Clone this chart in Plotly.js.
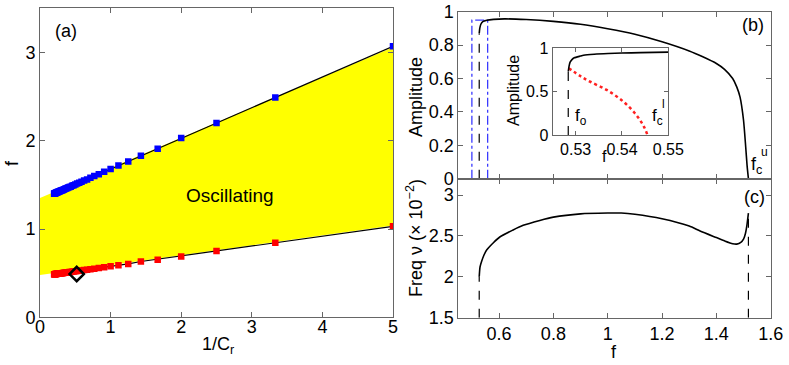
<!DOCTYPE html>
<html>
<head>
<meta charset="utf-8">
<script src="https://cdn.plot.ly/plotly-3.0.1.min.js"></script>
<style>html,body{margin:0;padding:0;background:#fff;}#chart{width:789px;height:365px;}</style>
</head>
<body>
<div id="chart"></div>
<script>
// ---------- Panel (a) data ----------
const invCr = [5, 3.333, 2.5, 2.0, 1.667, 1.429, 1.25, 1.111, 1.0, 0.909, 0.833, 0.769, 0.714, 0.667, 0.625, 0.588, 0.556, 0.526, 0.5, 0.476, 0.455, 0.435, 0.417, 0.4, 0.385, 0.37, 0.357, 0.345, 0.333, 0.323, 0.313, 0.303, 0.294, 0.286, 0.278, 0.27, 0.263, 0.256, 0.25, 0.244, 0.238, 0.233, 0.227, 0.222, 0.217, 0.213, 0.208, 0.204, 0.2];
const fUpper = [3.07, 2.49, 2.20, 2.03, 1.91, 1.83, 1.765, 1.72, 1.68, 1.65, 1.62, 1.60, 1.58, 1.56, 1.55, 1.535, 1.525, 1.515, 1.505, 1.495, 1.49, 1.48, 1.475, 1.47, 1.465, 1.46, 1.455, 1.45, 1.445, 1.443, 1.44, 1.435, 1.432, 1.43, 1.427, 1.424, 1.422, 1.42, 1.418, 1.416, 1.414, 1.412, 1.41, 1.408, 1.406, 1.405, 1.403, 1.402, 1.40];
const fLower = [1.03, 0.845, 0.75, 0.69, 0.652, 0.632, 0.605, 0.59, 0.577, 0.567, 0.558, 0.551, 0.545, 0.54, 0.535, 0.531, 0.528, 0.524, 0.521, 0.519, 0.516, 0.514, 0.512, 0.51, 0.508, 0.507, 0.505, 0.504, 0.503, 0.502, 0.5, 0.499, 0.498, 0.497, 0.496, 0.495, 0.495, 0.494, 0.493, 0.493, 0.492, 0.491, 0.491, 0.49, 0.49, 0.489, 0.489, 0.488, 0.488];
const oscX = [0, 5];
const oscTop = [1.35, 3.06];
const oscBottom = [0.478, 1.04];
const markX = [0.52];
const markY = [0.49];

// ---------- Panel (b) data ----------
const ampF = [0.527, 0.529, 0.533, 0.54, 0.555, 0.58, 0.62, 0.7, 0.8, 0.9, 1.0, 1.1, 1.2, 1.3, 1.35, 1.4, 1.43, 1.46, 1.475, 1.487, 1.5, 1.508, 1.513, 1.518];
const amp  = [0.87, 0.90, 0.925, 0.94, 0.949, 0.954, 0.957, 0.953, 0.942, 0.925, 0.898, 0.865, 0.82, 0.765, 0.73, 0.69, 0.655, 0.60, 0.55, 0.49, 0.35, 0.19, 0.08, 0.0];
const rectF = [0.5, 0.5, 0.558, 0.558];
const rectA = [0, 0.95, 0.95, 0];
const onsetF = [0.527, 0.527];
const onsetA = [0, 0.87];

// ---------- Inset data ----------
const inF   = [0.5284, 0.5286, 0.5288, 0.5292, 0.5297, 0.531, 0.5317, 0.534, 0.537, 0.54, 0.544, 0.55];
const inA   = [0.73, 0.80, 0.84, 0.87, 0.89, 0.91, 0.92, 0.932, 0.94, 0.945, 0.95, 0.956];
const redF  = [0.5285, 0.531, 0.5331, 0.5367, 0.5403, 0.5431, 0.5447, 0.5455];
const redA  = [0.77, 0.68, 0.615, 0.52, 0.385, 0.23, 0.10, 0.0];
const inDashF = [0.5284, 0.5284];
const inDashA = [0, 0.73];

// ---------- Panel (c) data ----------
const freqF = [0.527, 0.53, 0.536, 0.545, 0.555, 0.58, 0.604, 0.65, 0.689, 0.75, 0.8, 0.9, 1.0, 1.05, 1.1, 1.2, 1.3, 1.34, 1.4, 1.43, 1.46, 1.475, 1.49, 1.5, 1.507, 1.512, 1.518];
const freq  = [2.0, 2.12, 2.19, 2.27, 2.33, 2.42, 2.49, 2.57, 2.63, 2.69, 2.73, 2.77, 2.78, 2.78, 2.765, 2.71, 2.62, 2.56, 2.48, 2.44, 2.405, 2.40, 2.42, 2.46, 2.53, 2.62, 2.78];
const dashLF = [0.527, 0.527];
const dashLV = [1.5, 2.0];
const dashRF = [1.518, 1.518];
const dashRV = [1.5, 2.78];

const FONT = 'Liberation Sans, Arial, Helvetica, sans-serif';
const W = 789, H = 365;
const px = x => x / W;
const py = y => (H - y) / H;

const traces = [
  // panel a
  {x: oscX, y: oscBottom, xaxis: 'x', yaxis: 'y', mode: 'lines', line: {width: 0, color: 'rgba(0,0,0,0)'}, hoverinfo: 'skip', showlegend: false},
  {x: oscX, y: oscTop, xaxis: 'x', yaxis: 'y', mode: 'lines', fill: 'tonexty', fillcolor: '#ffff00', line: {width: 0, color: 'rgba(0,0,0,0)'}, showlegend: false},
  {x: invCr, y: fUpper, xaxis: 'x', yaxis: 'y', mode: 'lines+markers', line: {color: '#000', width: 1.2}, marker: {symbol: 'square', size: 6.5, color: '#0000ff'}, showlegend: false},
  {x: invCr, y: fLower, xaxis: 'x', yaxis: 'y', mode: 'lines+markers', line: {color: '#000', width: 1.2}, marker: {symbol: 'square', size: 6.5, color: '#ff0000'}, showlegend: false},
  {x: markX, y: markY, xaxis: 'x', yaxis: 'y', mode: 'markers', marker: {symbol: 'diamond-open', size: 11, color: '#000', line: {width: 2.5, color: '#000'}}, showlegend: false},
  // panel b
  {x: rectF, y: rectA, xaxis: 'x2', yaxis: 'y2', mode: 'lines', line: {color: '#3a3aff', width: 1.3, dash: 'dashdot'}, showlegend: false},
  {x: onsetF, y: onsetA, xaxis: 'x2', yaxis: 'y2', mode: 'lines', line: {color: '#000', width: 1.2, dash: 'dash'}, showlegend: false},
  {x: ampF, y: amp, xaxis: 'x2', yaxis: 'y2', mode: 'lines', line: {color: '#000', width: 1.6, shape: 'spline', smoothing: 0.6}, showlegend: false},
  // panel c
  {x: dashLF, y: dashLV, xaxis: 'x3', yaxis: 'y3', mode: 'lines', line: {color: '#000', width: 1.2, dash: 'dash'}, showlegend: false},
  {x: dashRF, y: dashRV, xaxis: 'x3', yaxis: 'y3', mode: 'lines', line: {color: '#000', width: 1.2, dash: 'dash'}, showlegend: false},
  {x: freqF, y: freq, xaxis: 'x3', yaxis: 'y3', mode: 'lines', line: {color: '#000', width: 1.6, shape: 'spline', smoothing: 0.6}, showlegend: false},
  // inset
  {x: inDashF, y: inDashA, xaxis: 'x4', yaxis: 'y4', mode: 'lines', line: {color: '#000', width: 1.2, dash: 'dash'}, showlegend: false},
  {x: redF, y: redA, xaxis: 'x4', yaxis: 'y4', mode: 'lines', line: {color: '#ff2020', width: 2.5, dash: 'dot', shape: 'spline'}, showlegend: false},
  {x: inF, y: inA, xaxis: 'x4', yaxis: 'y4', mode: 'lines', line: {color: '#000', width: 1.6, shape: 'spline', smoothing: 0.6}, showlegend: false}
];

const axBase = {
  showline: true, mirror: 'ticks', linecolor: '#666', linewidth: 1,
  ticks: 'inside', ticklen: 5, tickcolor: '#666', tickwidth: 1,
  showgrid: false, zeroline: false,
  tickfont: {family: FONT, size: 18, color: '#000'}
};
const inBase = Object.assign({}, axBase, {tickfont: {family: FONT, size: 16, color: '#000'}, ticklen: 4});

function ann(text, x, y, size, extra) {
  return Object.assign({text: text, x: px(x), y: py(y), xref: 'paper', yref: 'paper', xanchor: 'center', yanchor: 'middle', showarrow: false, font: {size: size, family: FONT, color: '#000'}}, extra || {});
}

const layout = {
  width: W, height: H,
  margin: {l: 0, r: 0, t: 0, b: 0, pad: 0},
  paper_bgcolor: '#fff', plot_bgcolor: 'rgba(0,0,0,0)',
  showlegend: false,
  font: {family: FONT, color: '#000'},
  xaxis: Object.assign({}, axBase, {domain: [px(40), px(393)], anchor: 'y', range: [0, 5], dtick: 1, tick0: 0, ticklabelstandoff: -7}),
  yaxis: Object.assign({}, axBase, {domain: [py(317.3), py(8.3)], anchor: 'x', range: [0, 3.5], dtick: 1, tick0: 0}),
  xaxis2: Object.assign({}, axBase, {domain: [px(458.3), px(770.7)], anchor: 'y2', range: [0.45, 1.6], dtick: 0.2, tick0: 0, showticklabels: false}),
  yaxis2: Object.assign({}, axBase, {domain: [py(178.7), py(11.7)], anchor: 'x2', range: [0, 1], dtick: 0.2, tick0: 0}),
  xaxis3: Object.assign({}, axBase, {domain: [px(458.3), px(770.7)], anchor: 'y3', range: [0.45, 1.6], dtick: 0.2, tick0: 0}),
  yaxis3: Object.assign({}, axBase, {domain: [py(317.7), py(178.7)], anchor: 'x3', range: [1.5, 3.2], dtick: 0.5, tick0: 0}),
  xaxis4: Object.assign({}, inBase, {domain: [px(552.5), px(668.3)], anchor: 'y4', range: [0.525, 0.55], dtick: 0.01, tick0: 0}),
  yaxis4: Object.assign({}, inBase, {domain: [py(135), py(48.3)], anchor: 'x4', range: [0, 1], dtick: 0.5, tick0: 0}),
  annotations: [
    ann('(a)', 66, 31, 18),
    {text: 'Oscillating', x: 2.69, y: 1.38, xref: 'x', yref: 'y', xanchor: 'center', yanchor: 'middle', showarrow: false, font: {size: 19, family: FONT, color: '#000'}},
    ann('1/C<sub>r</sub>', 218, 345, 18),
    ann('f', 12, 163, 18, {textangle: -90}),
    ann('(b)', 753, 25, 18),
    ann('(c)', 754, 197, 18),
    ann('Amplitude', 416, 97, 18, {textangle: -90}),
    ann('Freq ν (× 10<sup>−2</sup>)', 414, 238, 18, {textangle: -90}),
    ann('f', 614, 352, 18),
    ann('f<sub>c</sub>', 756, 165, 18),
    ann('u', 764, 152, 12),
    // inset labels
    ann('Amplitude', 514, 91, 16, {textangle: -90}),
    ann('f', 604, 156, 16),
    ann('f<sub>o</sub>', 581, 117, 17),
    ann('f<sub>c</sub>', 657, 117, 17),
    ann('l', 663, 104, 12)
  ]
};

Plotly.newPlot('chart', traces, layout, {staticPlot: true, displayModeBar: false});
</script>
</body>
</html>
